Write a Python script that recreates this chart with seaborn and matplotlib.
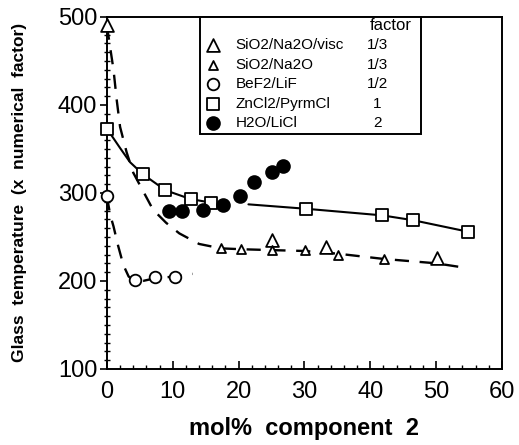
import matplotlib
matplotlib.use("Agg")
import matplotlib.pyplot as plt
import seaborn as sns
import pandas as pd
from matplotlib.ticker import MultipleLocator

# ---- data ----
visc_x = [0, 25.1, 33.3, 50.1]
visc_y = [491, 247, 238, 226]

na2o_x = [17.3, 20.4, 25.1, 30.1, 35.1, 42.1]
na2o_y = [237, 236, 235, 235, 230, 225]

bef2_x = [0, 4.25, 7.3, 10.3]
bef2_y = [296, 201, 204, 205]

zncl_x = [0, 5.5, 8.9, 12.7, 15.8, 30.2, 41.8, 46.5, 54.8]
zncl_y = [373, 321, 303, 293, 289, 282, 274.5, 269, 256]

h2o_x = [9.4, 11.4, 14.6, 17.6, 20.2, 22.3, 25.1, 26.7]
h2o_y = [279, 279, 281, 286, 297, 312, 324, 331]

# guide curves drawn in the reference
na2o_guide_x = [0, 0.5, 1.0, 1.5, 2.0, 3.0, 4.0, 5.5, 7.0, 9.0, 11.0, 14.0, 17.3, 20.4, 25, 30, 35, 42, 50, 53.5]
na2o_guide_y = [490, 465, 440, 405, 375, 346, 323, 302, 281, 266, 254, 242, 237, 236, 235, 234, 231, 225, 220, 216]

bef2_guide_x = [0, 0.5, 1.0, 1.7, 2.5, 3.3, 4.2, 5.5, 7.3, 10.3, 13.0]
bef2_guide_y = [296, 275, 262, 240, 218, 205, 200, 200, 203, 205, 208]

zn_guide1_x = [0, 1, 2, 3.5, 5.5, 8.9, 12.7, 15.8]
zn_guide1_y = [373, 362, 351, 335, 321, 303, 293, 289]
zn_guide2_x = [21.5, 30.2, 41.8, 46.5, 54.8]
zn_guide2_y = [287, 282, 274.5, 269, 256]

labels = ["SiO2/Na2O/visc", "SiO2/Na2O", "BeF2/LiF", "ZnCl2/PyrmCl", "H2O/LiCl"]
factors = ["1/3", "1/3", "1/2", "1", "2"]

x_ticks = [0, 10, 20, 30, 40, 50, 60]
y_ticks = [100, 200, 300, 400, 500]

# ---- style ----
sns.set_style("ticks")
plt.rcParams["font.family"] = ["Liberation Sans", "DejaVu Sans"]
plt.rcParams["text.color"] = "black"
plt.rcParams["axes.labelcolor"] = "black"
plt.rcParams["xtick.color"] = "black"
plt.rcParams["ytick.color"] = "black"

fig = plt.figure(figsize=(5.19, 4.45), dpi=100)
ax = fig.add_axes([0.206, 0.171, 0.761, 0.791])

lw = 1.7
dash = (6, 4.5)

sns.lineplot(x=na2o_guide_x, y=na2o_guide_y, ax=ax, color="black", lw=lw,
             sort=False, estimator=None)
ax.lines[-1].set_dashes(dash)
sns.lineplot(x=bef2_guide_x, y=bef2_guide_y, ax=ax, color="black", lw=lw,
             sort=False, estimator=None)
ax.lines[-1].set_dashes(dash)
sns.lineplot(x=zn_guide1_x, y=zn_guide1_y, ax=ax, color="black", lw=1.5,
             sort=False, estimator=None)
sns.lineplot(x=zn_guide2_x, y=zn_guide2_y, ax=ax, color="black", lw=1.5,
             sort=False, estimator=None)

mew = 1.3
sns.scatterplot(x=visc_x, y=visc_y, ax=ax, marker="^", s=85, facecolor="white",
                edgecolor="black", linewidth=mew, label=labels[0], clip_on=False, zorder=5)
sns.scatterplot(x=na2o_x, y=na2o_y, ax=ax, marker="^", s=42, facecolor="white",
                edgecolor="black", linewidth=mew, label=labels[1], clip_on=False, zorder=5)
sns.scatterplot(x=bef2_x, y=bef2_y, ax=ax, marker="o", s=70, facecolor="white",
                edgecolor="black", linewidth=mew, label=labels[2], clip_on=False, zorder=5)
sns.scatterplot(x=zncl_x, y=zncl_y, ax=ax, marker="s", s=80, facecolor="white",
                edgecolor="black", linewidth=mew, label=labels[3], clip_on=False, zorder=5)
sns.scatterplot(x=h2o_x, y=h2o_y, ax=ax, marker="o", s=85, facecolor="black",
                edgecolor="black", linewidth=mew, label=labels[4], clip_on=False, zorder=5)

ax.set_xlim(0, 60)
ax.set_ylim(100, 500)
ax.set_xticks(x_ticks)
ax.set_yticks(y_ticks)
ax.xaxis.set_minor_locator(MultipleLocator(2))
ax.yaxis.set_minor_locator(MultipleLocator(10))
ax.tick_params(axis="x", which="major", direction="in", length=6, width=1.2,
               labelsize=17, pad=9, colors="black")
ax.tick_params(axis="x", which="minor", direction="in", length=3, width=1.0)
ax.tick_params(axis="y", which="major", direction="out", length=5, width=1.2,
               labelsize=17, pad=2, colors="black")
ax.tick_params(axis="y", which="minor", direction="inout", length=4, width=1.0)
for sp in ax.spines.values():
    sp.set_visible(True)
    sp.set_linewidth(1.4)
    sp.set_color("black")

ax.set_xlabel("mol%  component  2", fontsize=17, fontweight="bold", labelpad=10,
              color="black")
ax.set_ylabel("Glass  temperature  (x  numerical  factor)", fontsize=12.5,
              fontweight="bold", labelpad=22, color="black")

handles, labs = ax.get_legend_handles_labels()
leg = ax.legend(handles, labs, loc="upper left", bbox_to_anchor=(0.235, 0.665, 0.56, 0.335),
                mode="expand", title=" ", fontsize=11, title_fontsize=9,
                frameon=True, fancybox=False, framealpha=1, edgecolor="black",
                handlelength=1.2, handletextpad=0.9, labelspacing=0.36,
                borderpad=0.25, borderaxespad=0)
leg.get_frame().set_linewidth(1.4)
for t in leg.get_texts():
    t.set_color("black")

fig.canvas.draw()
inv = ax.transAxes.inverted()
fx = 0.684
for t, f in zip(leg.get_texts(), factors):
    bb = t.get_window_extent()
    yc = inv.transform(((bb.x0 + bb.x1) / 2, (bb.y0 + bb.y1) / 2))[1]
    ax.text(fx, yc, f, transform=ax.transAxes, ha="center", va="center", fontsize=11,
            zorder=10, color="black")
ax.text(0.719, 0.975, "factor", transform=ax.transAxes, ha="center", va="center",
        fontsize=12, zorder=10, color="black")

fig.savefig("out.png", dpi=100)
